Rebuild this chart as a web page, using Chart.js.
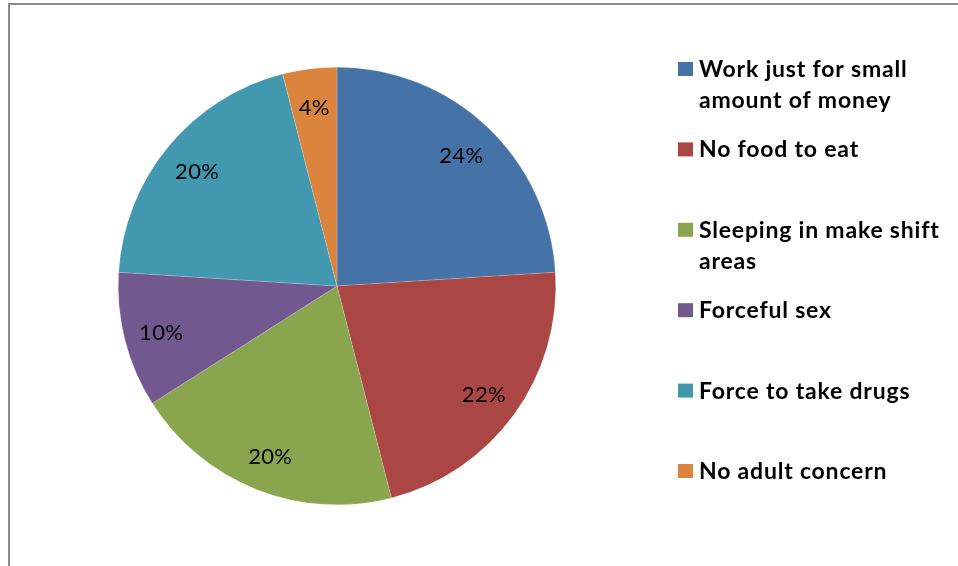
<!DOCTYPE html>
<html>
<head>
<meta charset="utf-8">
<title>Problems faced</title>
<script src="https://cdn.jsdelivr.net/npm/chart.js@4/dist/chart.umd.min.js"></script>
<style>
  html, body { margin: 0; padding: 0; background: #fff; }
  canvas { display: block; }
</style>
</head>
<body>
<canvas id="myChart" width="958" height="566"></canvas>
<script>
// categories (already split into the lines shown in the legend)
const categories = [
  ["Work just for small", "amount of money"],
  ["No food to eat"],
  ["Sleeping in make shift", "areas"],
  ["Forceful sex"],
  ["Force to take drugs"],
  ["No adult concern"]
];
const percentages = [24, 22, 20, 10, 20, 4];
const sliceColors = ["#4572A7", "#AA4643", "#89A54E", "#71588F", "#4198AF", "#DB843D"];

const fontFamily = "Lato, Carlito, Calibri, sans-serif";

// gray frame on top and left
const framePlugin = {
  id: "frame",
  beforeDraw(chart) {
    const ctx = chart.ctx;
    ctx.save();
    ctx.fillStyle = "#fff";
    ctx.fillRect(0, 0, chart.width, chart.height);
    ctx.strokeStyle = "#8c8c8c";
    ctx.lineWidth = 2;
    ctx.beginPath();
    ctx.moveTo(9, chart.height);
    ctx.lineTo(9, 4);
    ctx.lineTo(chart.width, 4);
    ctx.stroke();
    ctx.restore();
  }
};

// percentage text inside each slice
const sliceLabels = {
  id: "sliceLabels",
  afterDatasetsDraw(chart) {
    const ctx = chart.ctx;
    const meta = chart.getDatasetMeta(0);
    const values = chart.data.datasets[0].data;
    ctx.save();
    ctx.font = "22px " + fontFamily;
    ctx.letterSpacing = "0.3px";
    ctx.fillStyle = "#000";
    ctx.textAlign = "center";
    ctx.textBaseline = "middle";
    meta.data.forEach((arc, i) => {
      const p = arc.getProps(["x", "y", "startAngle", "endAngle", "outerRadius"], true);
      const mid = (p.startAngle + p.endAngle) / 2;
      const r = p.outerRadius * 0.83;
      ctx.fillText(values[i] + "%", p.x + Math.cos(mid) * r, p.y + Math.sin(mid) * r + 2);
    });
    ctx.restore();
  }
};

// legend on the right with wrapped labels
const sideLegend = {
  id: "sideLegend",
  afterDraw(chart) {
    const ctx = chart.ctx;
    const labels = chart.data.labels;
    const colors = chart.data.datasets[0].backgroundColor;
    const left = 678, top = 62, step = 80.4, box = 15, lineH = 31;
    ctx.save();
    ctx.font = "bold 23px " + fontFamily;
    ctx.letterSpacing = "0.8px";
    ctx.textAlign = "left";
    ctx.textBaseline = "alphabetic";
    labels.forEach((lines, i) => {
      const y = top + step * i;
      ctx.fillStyle = colors[i];
      ctx.fillRect(left, y, box, box - 1);
      ctx.fillStyle = "#000";
      lines.forEach((line, j) => {
        ctx.fillText(line, left + 21, y + 15 + j * lineH);
      });
    });
    ctx.restore();
  }
};

const config = {
  type: "pie",
  data: {
    labels: categories,
    datasets: [{
      data: percentages,
      backgroundColor: sliceColors,
      borderColor: "rgba(255,255,255,0.35)",
      borderWidth: 0.5
    }]
  },
  options: {
    responsive: false,
    animation: false,
    layout: { padding: { left: 118, right: 402, top: 67, bottom: 61 } },
    plugins: {
      legend: { display: false },
      tooltip: { enabled: false }
    }
  },
  plugins: [framePlugin, sliceLabels, sideLegend]
};

const myChart = new Chart(document.getElementById("myChart"), config);
</script>
</body>
</html>
